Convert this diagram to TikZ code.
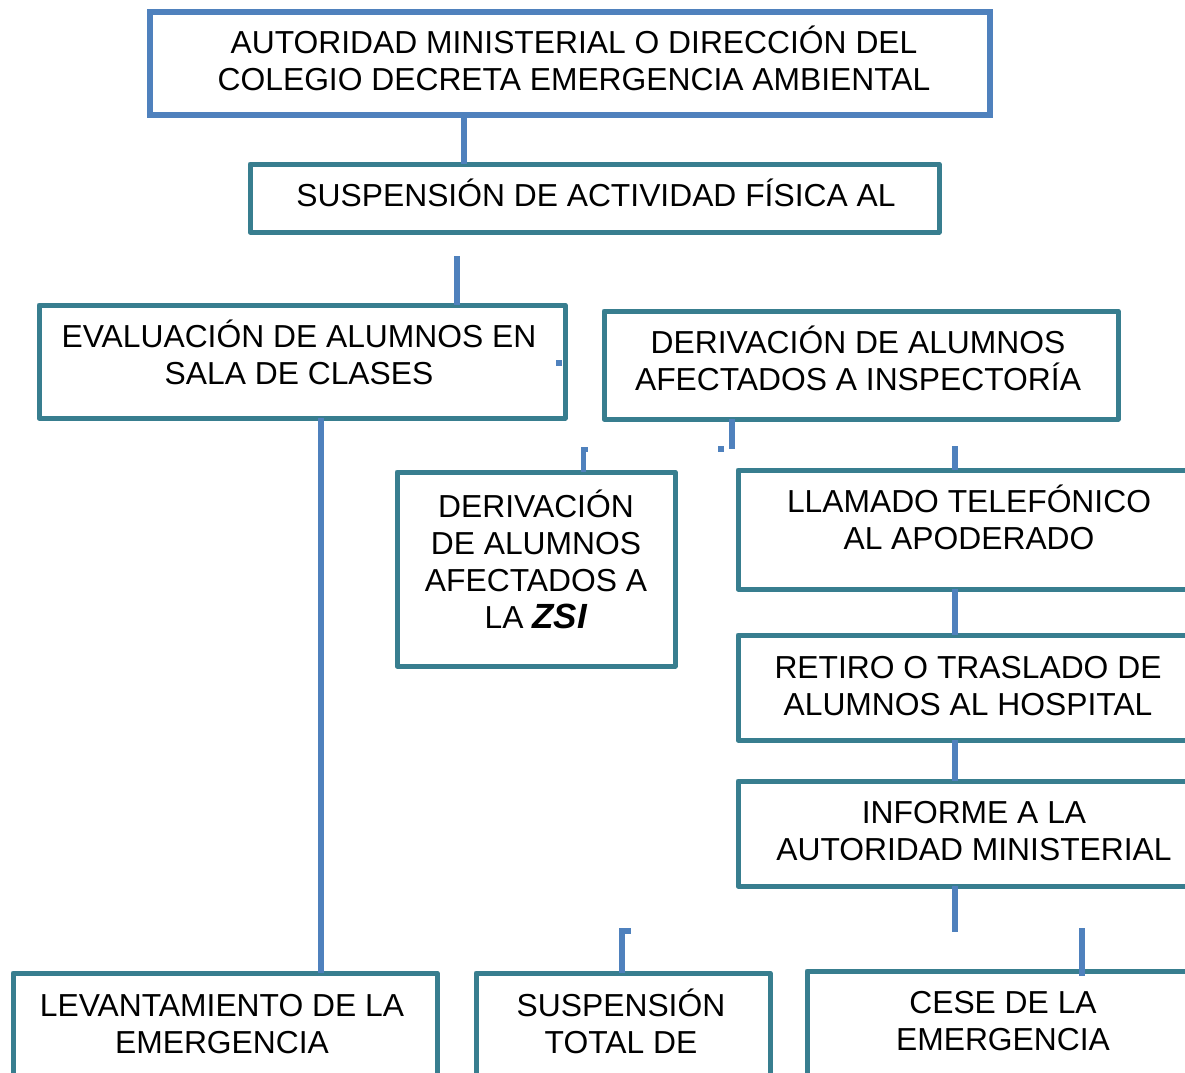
\documentclass[tikz,border=0pt]{standalone}
\usepackage{fontspec}
\setmainfont{Liberation Sans}
\definecolor{bblue}{RGB}{79,129,189}
\definecolor{bteal}{RGB}{56,126,143}
\tikzset{
  tealbox/.style={draw=bteal, line width=5pt, line join=round, inner sep=0pt, outer sep=0pt, anchor=north west},
  bluebox/.style={draw=bblue, line width=6pt, line join=miter, inner sep=0pt, outer sep=0pt, anchor=north west},
  conn/.style={draw=bblue, line width=5.5pt},
  txt/.style={font=\fontsize{31.8}{37}\selectfont, align=center, anchor=base, inner sep=0pt},
  dotmark/.style={fill=bblue, inner sep=0pt, minimum size=6pt}
}
\begin{document}
\begin{tikzpicture}[x=1pt,y=-1pt]
\useasboundingbox (0,0) rectangle (1185,1072);
\fill[white] (0,0) rectangle (1185,1072);
\clip (0,0) rectangle (1185,1072);
% connector x positions and free ends
\coordinate (x464) at (464,0);
\coordinate (x321) at (321,0);
\coordinate (x732) at (732,0);
\coordinate (x583) at (583,0);
\coordinate (x622) at (622,0);
\coordinate (x955) at (955,0);
\coordinate (x1082) at (1082,0);
\coordinate (c2a) at (457,256);
\coordinate (c4b) at (732,449);
\coordinate (b1) at (583,449);
\coordinate (b1e) at (588,449);
\coordinate (b2) at (622,931);
\coordinate (b2e) at (631,931);
\coordinate (c5a) at (955,446);
\coordinate (c8b) at (955,932);
\coordinate (c9a) at (1082,928);
% boxes
\node[bluebox, minimum width=840pt, minimum height=103pt] (top) at (150,12) {};
\node[tealbox, minimum width=689pt, minimum height=68pt] (sus) at (250,164) {};
\node[tealbox, minimum width=526pt, minimum height=113pt] (eval) at (39,305) {};
\node[tealbox, minimum width=514pt, minimum height=108pt] (deriv) at (604,311) {};
\node[tealbox, minimum width=278pt, minimum height=194pt] (zsi) at (397,472) {};
\node[tealbox, minimum width=470pt, minimum height=119pt] (llam) at (738,470) {};
\node[tealbox, minimum width=470pt, minimum height=105pt] (ret) at (738,635) {};
\node[tealbox, minimum width=470pt, minimum height=105pt] (inf) at (738,781) {};
\node[tealbox, minimum width=424pt, minimum height=140pt] (lev) at (13,973) {};
\node[tealbox, minimum width=294pt, minimum height=140pt] (stot) at (476,973) {};
\node[tealbox, minimum width=400pt, minimum height=140pt] (cese) at (807,971) {};
% connectors
\draw[conn] (top.south -| x464) -- (sus.north -| x464);
\draw[conn] (c2a) -- (eval.north -| c2a);
\draw[conn] (eval.south -| x321) -- (lev.north -| x321);
\draw[conn] (deriv.south -| x732) -- (c4b);
\draw[conn, line width=5pt, line join=miter] (zsi.north -| x583) -- (b1) -- (b1e);
\draw[conn, line width=6pt, line join=miter] (stot.north -| x622) -- (b2) -- (b2e);
\draw[conn] (c5a) -- (llam.north -| x955);
\draw[conn] (llam.south -| x955) -- (ret.north -| x955);
\draw[conn] (ret.south -| x955) -- (inf.north -| x955);
\draw[conn] (inf.south -| x955) -- (c8b);
\draw[conn] (c9a) -- (cese.north -| x1082) -- ++(0,5);
% texts (anchor = baseline of last line)
\node[txt] (ttop) at (574,90) {AUTORIDAD MINISTERIAL O DIRECCIÓN DEL\\COLEGIO DECRETA EMERGENCIA AMBIENTAL};
\node[txt] (tsus) at (596,206) {SUSPENSIÓN DE ACTIVIDAD FÍSICA AL};
\node[txt] (teval) at (299,384) {EVALUACIÓN DE ALUMNOS EN\\SALA DE CLASES};
\node[txt] (tderiv) at (858,390) {DERIVACIÓN DE ALUMNOS\\AFECTADOS A INSPECTORÍA};
\node[txt] (tzsi) at (536,628) {DERIVACIÓN\\DE ALUMNOS\\AFECTADOS A\\LA {\fontsize{35}{37}\selectfont\textbf{\textit{ZSI}}}};
\node[txt] (tllam) at (969,549) {LLAMADO TELEFÓNICO\\AL APODERADO};
\node[txt] (tret) at (968,715) {RETIRO O TRASLADO DE\\ALUMNOS AL HOSPITAL};
\node[txt] (tinf) at (974,860) {INFORME A LA\\AUTORIDAD MINISTERIAL};
\node[txt] (tlev) at (222,1053) {LEVANTAMIENTO DE LA\\EMERGENCIA};
\node[txt] (tstot) at (621,1053) {SUSPENSIÓN\\TOTAL DE};
\node[txt] (tcese) at (1003,1050) {CESE DE LA\\EMERGENCIA};
% small marks
\node[dotmark] (dot1) at (558.5,363) {};
\node[dotmark] (dot2) at (721,448.5) {};
\end{tikzpicture}
\end{document}
